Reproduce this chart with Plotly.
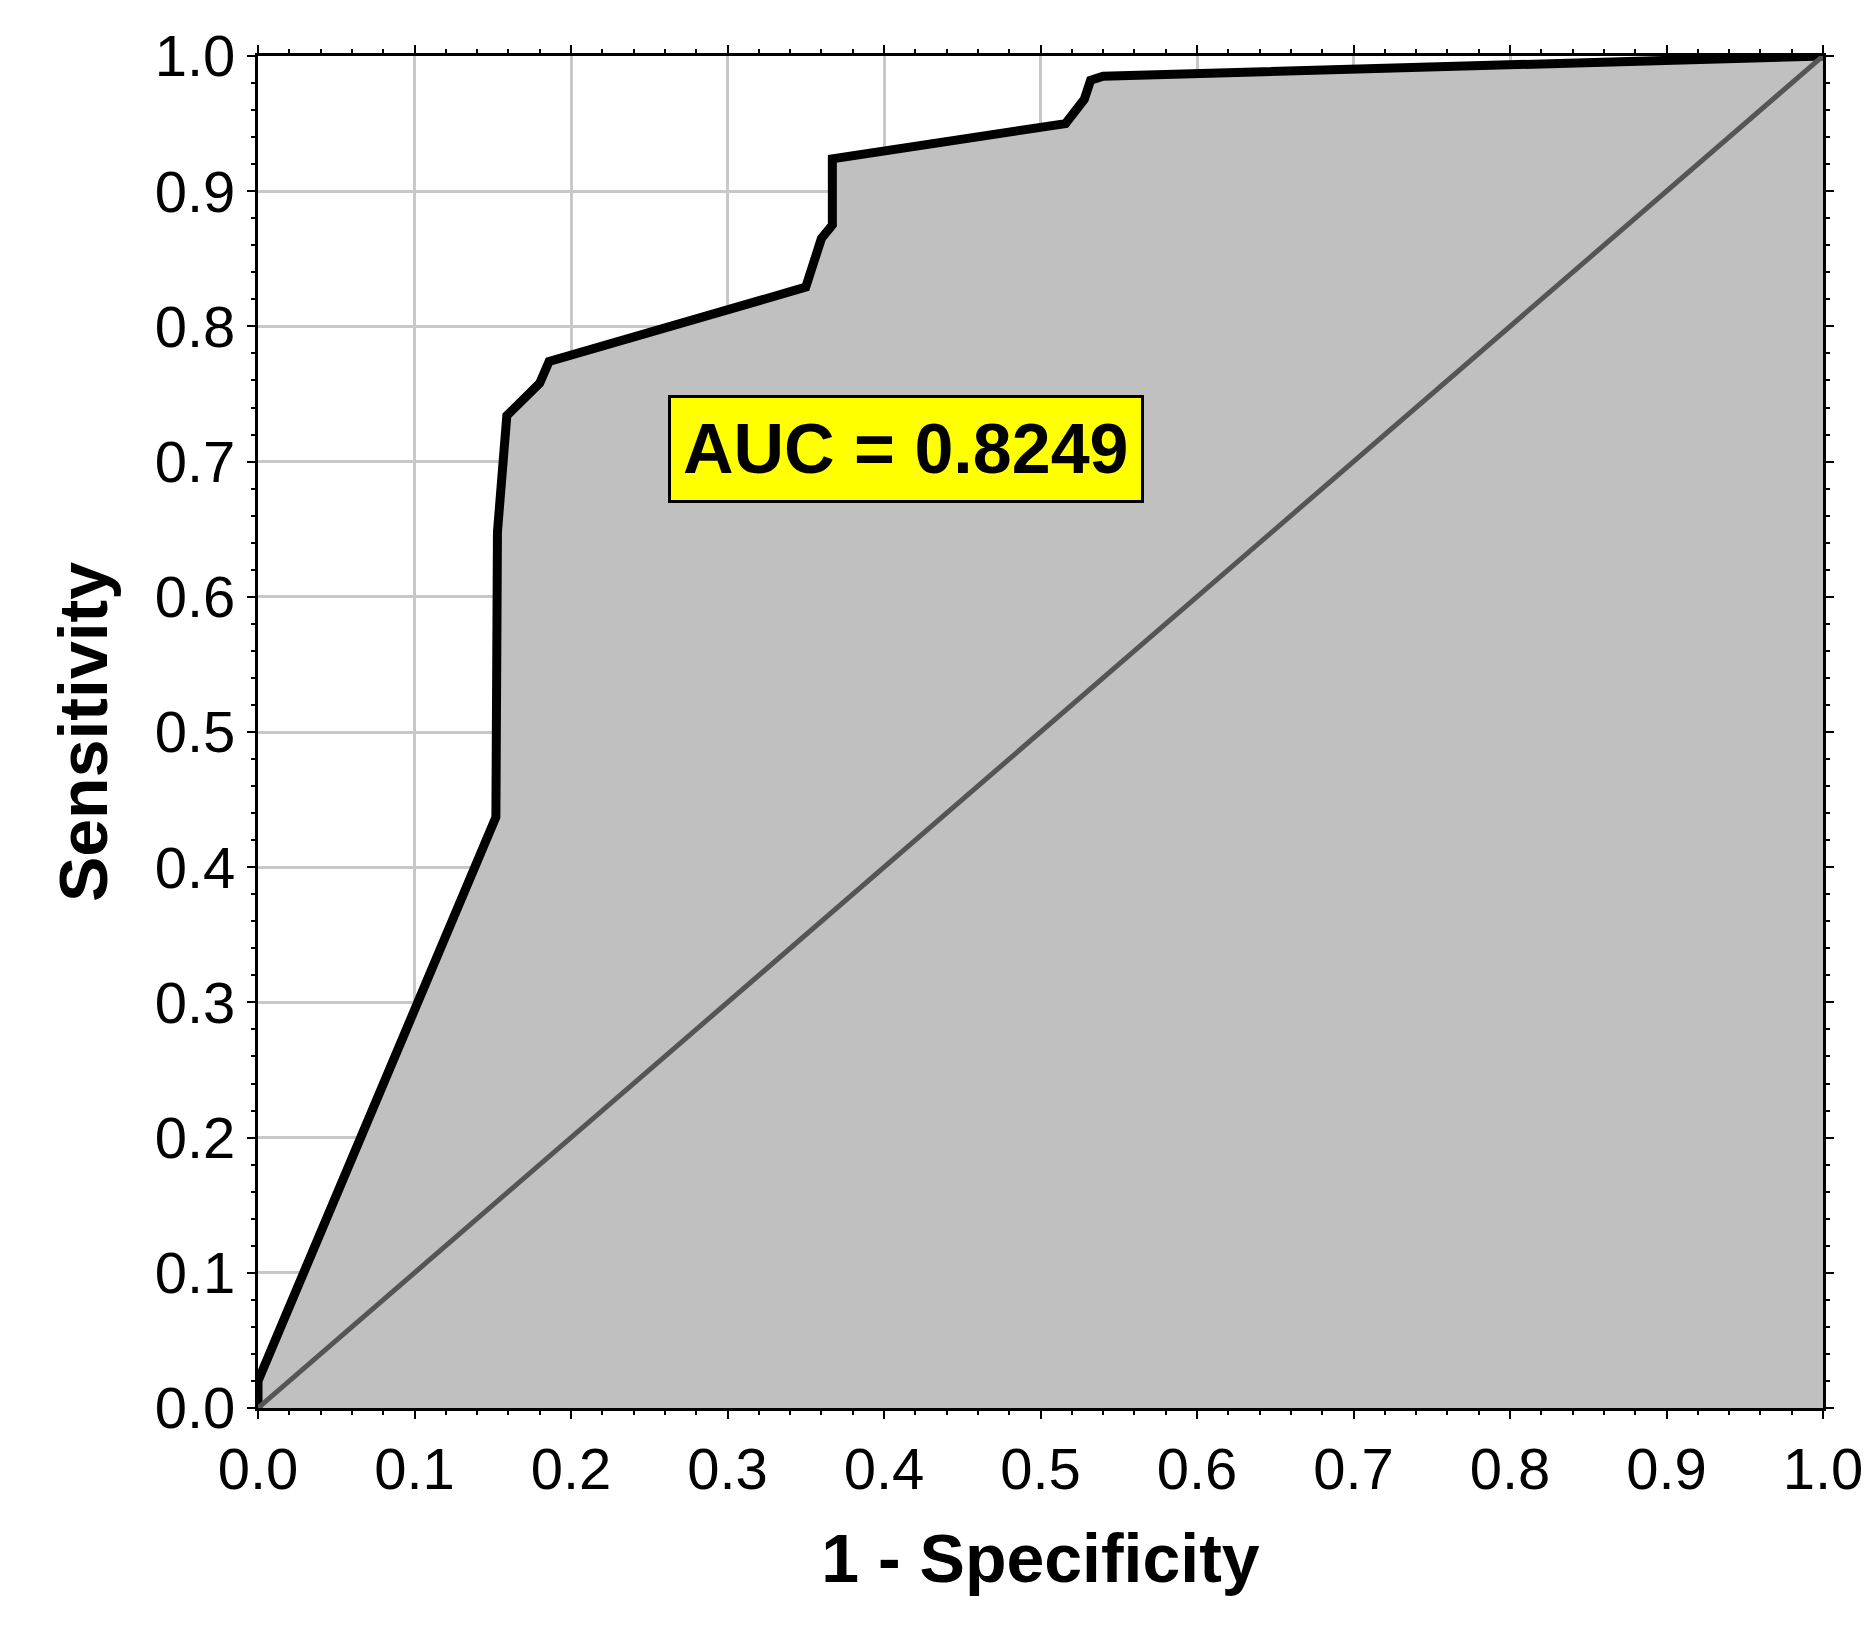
import plotly.graph_objects as go

fpr = [0.0, 0.0, 0.152, 0.153, 0.159, 0.18, 0.186, 0.35, 0.36, 0.367, 0.367, 0.516, 0.528, 0.532, 0.54, 1.0]
tpr = [0.0, 0.02, 0.437, 0.648, 0.734, 0.758, 0.774, 0.829, 0.865, 0.875, 0.924, 0.95, 0.968, 0.982, 0.985, 1.0]
auc_text = "AUC = 0.8249"

font = "Liberation Sans, Arial, sans-serif"

fig = go.Figure()
fig.add_trace(go.Scatter(x=fpr, y=tpr, mode="lines", fill="tozeroy",
                         fillcolor="#c0c0c0", line=dict(color="black", width=9),
                         showlegend=False))
fig.add_trace(go.Scatter(x=[0, 1], y=[0, 1], mode="lines",
                         line=dict(color="#555555", width=5), showlegend=False))

fig.add_annotation(x=0.414, y=0.709, xref="x", yref="y", text="<b>" + auc_text + "</b>",
                   showarrow=False, bgcolor="yellow", bordercolor="black", borderwidth=3,
                   borderpad=12, font=dict(family=font, size=70, color="black"))

axis = dict(range=[0, 1], dtick=0.1, tickformat=".1f", showgrid=True,
            gridcolor="#c8c8c8", gridwidth=3, showline=True, linecolor="black",
            linewidth=3, mirror="ticks", ticks="outside", ticklen=8, tickwidth=2,
            tickcolor="black", zeroline=False, layer="below traces",
            tickfont=dict(family=font, size=58, color="black"),
            minor=dict(dtick=0.02, ticks="outside", ticklen=4, tickcolor="black", showgrid=False))

fig.update_xaxes(**axis, title=dict(text="<b>1 - Specificity</b>", standoff=35,
                 font=dict(family=font, size=68, color="black")))
fig.update_yaxes(**axis, title=dict(text="<b>Sensitivity</b>", standoff=25,
                 font=dict(family=font, size=68, color="black")))

fig.update_layout(width=1869, height=1650, plot_bgcolor="white", paper_bgcolor="white",
                  margin=dict(l=250, r=54, t=48, b=250))

fig.write_html("out.html")
